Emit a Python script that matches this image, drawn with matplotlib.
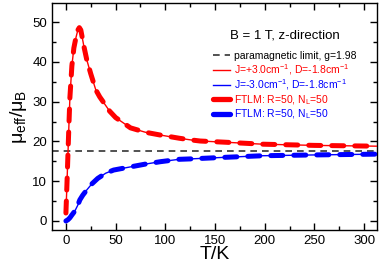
import matplotlib
matplotlib.use('Agg')
import matplotlib.pyplot as plt
from matplotlib.ticker import MultipleLocator

plt.rcParams['font.family'] = ['Liberation Sans', 'DejaVu Sans']
plt.rcParams['mathtext.fontset'] = 'custom'
plt.rcParams['mathtext.rm'] = 'Liberation Sans'
plt.rcParams['mathtext.it'] = 'Liberation Sans'

# values
T_ferro = [0, 1, 2, 3, 4, 6, 8, 10, 12, 13.5, 15, 18, 21, 25, 30, 34, 44, 50,
           65, 80, 95, 114, 125, 135, 160, 198, 250, 313]
mu_ferro = [2.0, 9.0, 16.5, 24.0, 31.0, 39.0, 43.5, 46.0, 48.0, 48.6, 48.0,
            44.0, 40.5, 37.0, 33.0, 31.2, 27.6, 26.0, 23.4, 22.3, 21.6, 20.8,
            20.4, 20.1, 19.8, 19.3, 19.0, 18.8]

T_anti = [0, 2, 4, 6, 9, 12, 14, 17, 21, 26, 32, 40, 48, 65, 80, 95, 114, 125,
          160, 198, 250, 313]
mu_anti = [0.0, 0.3, 0.8, 1.5, 2.5, 4.0, 5.3, 6.5, 7.8, 9.3, 10.7, 12.0, 12.8,
           13.6, 14.3, 14.9, 15.5, 15.6, 16.0, 16.4, 16.6, 16.8]

para_limit = 17.7

fig = plt.figure(figsize=(3.81, 2.72), dpi=100)
ax = fig.add_axes([0.1365, 0.154, 0.853, 0.835])

ax.axhline(para_limit, color='#333333', lw=1.2, ls=(0, (4, 3)),
           label='paramagnetic limit, g=1.98')
ax.plot(T_ferro, mu_ferro, color='red', lw=3.6, ls=(0, (2.4, 2.2)),
        dash_capstyle='round', zorder=2)
ax.plot(T_anti, mu_anti, color='blue', lw=3.6, ls=(0, (2.4, 2.2)),
        dash_capstyle='round', zorder=2)
ax.plot(T_ferro, mu_ferro, color='red', lw=1.0, zorder=3,
        label='J=+3.0cm$^{-1}$, D=-1.8cm$^{-1}$')
ax.plot(T_anti, mu_anti, color='blue', lw=1.0, zorder=3,
        label='J=-3.0cm$^{-1}$, D=-1.8cm$^{-1}$')
# legend-only handles for the FTLM curves
ax.plot([], [], color='red', lw=3.8, solid_capstyle='round',
        label='FTLM: R=50, N$_L$=50')
ax.plot([], [], color='blue', lw=3.8, solid_capstyle='round',
        label='FTLM: R=50, N$_L$=50')

ax.set_xlim(-14, 313)
ax.set_ylim(-2.3, 54.8)
ax.xaxis.set_major_locator(MultipleLocator(50))
ax.xaxis.set_minor_locator(MultipleLocator(25))
ax.yaxis.set_major_locator(MultipleLocator(10))
ax.yaxis.set_minor_locator(MultipleLocator(5))
ax.tick_params(which='both', direction='in', top=True, right=True,
               labelsize=9.5, width=1)
ax.tick_params(which='major', length=5)
ax.tick_params(which='minor', length=3)
for s in ax.spines.values():
    s.set_linewidth(1)

ax.set_xlabel('T/K', fontsize=14, labelpad=-1)
ax.set_ylabel('μ$_{\\rm eff}$/μ$_{\\rm B}$', fontsize=14, labelpad=2)

leg = ax.legend(loc='upper right', bbox_to_anchor=(0.965, 0.925), frameon=False,
                fontsize=7.5, labelcolor='linecolor', handlelength=1.6,
                handletextpad=0.35, labelspacing=0.08,
                title='B = 1 T, z-direction', title_fontsize=9.5)
leg.get_texts()[0].set_color('black')
leg._legend_box.sep = 7

fig.savefig('out.png', dpi=100)
